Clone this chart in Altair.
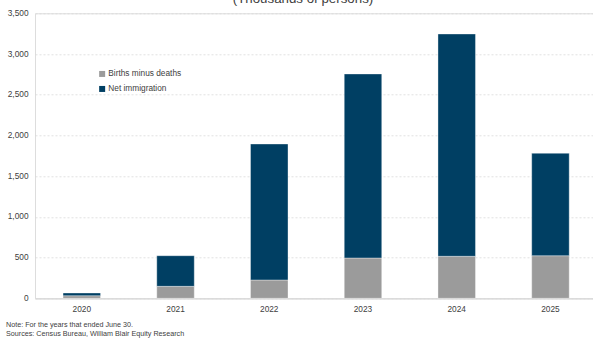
import altair as alt
import pandas as pd

years = ["2020", "2021", "2022", "2023", "2024", "2025"]
births_minus_deaths = [32, 147, 225, 495, 516, 523]
net_immigration = [33, 376, 1670, 2260, 2730, 1258]
series = ["Births minus deaths", "Net immigration"]
colors = ["#9b9b9b", "#003f63"]
title_text = "(Thousands of persons)"
note_lines = ["Note: For the years that ended June 30.",
              "Sources: Census Bureau, William Blair Equity Research"]

rows = []
for i, y in enumerate(years):
    rows.append({"year": y, "series": series[0], "value": births_minus_deaths[i], "ord": 0})
    rows.append({"year": y, "series": series[1], "value": net_immigration[i], "ord": 1})
df = pd.DataFrame(rows)

FONT = "Liberation Sans"

bars = alt.Chart(df).mark_bar(stroke="#ffffff", strokeOpacity=0.45, strokeWidth=0.8).encode(
    x=alt.X("year:N", sort=years,
            scale=alt.Scale(paddingInner=0.6, paddingOuter=0.2765, align=0.541),
            axis=alt.Axis(title=None, labelAngle=0, ticks=False, domain=True,
                          domainColor="#d9d9d9", domainWidth=1.2, labelPadding=6,
                          labelFontSize=8.3, labelColor="#404040", labelFont=FONT,
                          grid=False)),
    y=alt.Y("value:Q", stack="zero",
            scale=alt.Scale(domain=[0, 3500], nice=False),
            axis=alt.Axis(title=None, values=[0, 500, 1000, 1500, 2000, 2500, 3000, 3500],
                          format=",.0f", ticks=False, domain=False, labelPadding=7,
                          labelFontSize=8.3, labelColor="#404040", labelFont=FONT,
                          gridColor="#d9d9d9", gridDash=[2, 2], gridWidth=0.8)),
    color=alt.Color("series:N", scale=alt.Scale(domain=series, range=colors),
                    legend=alt.Legend(title=None, orient="none", legendX=63, legendY=56.5,
                                      symbolType="square", symbolSize=36,
                                      symbolStrokeWidth=0, labelOffset=2,
                                      labelFontSize=8.3, labelColor="#404040",
                                      labelFont=FONT, rowPadding=6, padding=0)),
    order=alt.Order("ord:Q", sort="ascending"),
)

title_df = pd.DataFrame({"t": [title_text]})
title = alt.Chart(title_df).mark_text(
    fontSize=13.3, font=FONT, color="#404040", align="center", baseline="alphabetic"
).encode(x=alt.value(268), y=alt.value(-10.5), text="t:N")

notes_df = pd.DataFrame({"t": note_lines, "yy": [311.5, 321]})
notes = alt.Chart(notes_df).mark_text(
    fontSize=7.2, font=FONT, color="#404040", align="left", baseline="middle"
).encode(x=alt.value(-29), y=alt.Y("yy:Q", scale=None), text="t:N")

chart = alt.layer(bars, title, notes).properties(
    width=558, height=285,
    autosize=alt.AutoSizeParams(type="none"),
    padding={"left": 35, "top": 13.3, "right": 0, "bottom": 40.7},
).configure_view(stroke=None).configure(background="white")

chart.save("out.html", embed_options={"renderer": "svg", "actions": False})
